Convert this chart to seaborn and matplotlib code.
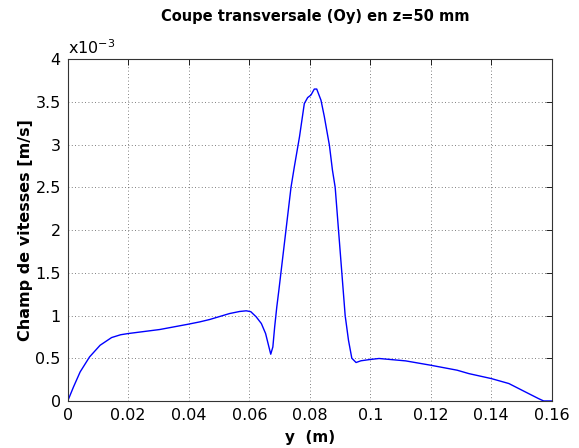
import matplotlib
matplotlib.use("Agg")
import matplotlib.pyplot as plt
from matplotlib.ticker import FuncFormatter
import numpy as np
import pandas as pd
import seaborn as sns

# Coupe transversale (Oy) a z = 50 mm
y_pos = [0.0, 0.0019, 0.0041, 0.0072, 0.0107, 0.0145, 0.0175, 0.0200, 0.0304,
         0.0398, 0.0436, 0.0469, 0.0535, 0.0568, 0.0590, 0.0605, 0.0623, 0.0640,
         0.0654, 0.0665, 0.0671, 0.0678, 0.0684, 0.0691, 0.0698, 0.0718, 0.0738,
         0.0749, 0.0766, 0.0782, 0.0793, 0.0804, 0.0815, 0.0823, 0.0837, 0.0848,
         0.0865, 0.0875, 0.0884, 0.0895, 0.0906, 0.0917, 0.0928, 0.0939, 0.0953,
         0.0969, 0.0999, 0.1029, 0.1117, 0.1200, 0.1287, 0.1326, 0.1400, 0.1458,
         0.1513, 0.1556, 0.1573, 0.1600]
# champ de vitesses en 1e-3 m/s
vitesse_e3 = [0.0, 0.164, 0.34, 0.515, 0.652, 0.742, 0.775, 0.789, 0.836,
              0.898, 0.925, 0.953, 1.023, 1.047, 1.055, 1.045, 0.984, 0.906,
              0.789, 0.632, 0.547, 0.632, 0.867, 1.10, 1.30, 1.90, 2.50,
              2.74, 3.09, 3.48, 3.55, 3.58, 3.65, 3.65, 3.52, 3.33,
              2.99, 2.70, 2.50, 2.0, 1.5, 1.0, 0.71, 0.5, 0.45,
              0.47, 0.485, 0.497, 0.469, 0.418, 0.36, 0.32, 0.262, 0.204,
              0.105, 0.028, 0.0, 0.0]

df = pd.DataFrame({"y": y_pos, "v": np.array(vitesse_e3) * 1e-3})

sns.set_style("white")
plt.rcParams['font.family'] = ['DejaVu Sans']
plt.rcParams['text.color'] = 'black'
plt.rcParams['axes.labelcolor'] = 'black'

fig = plt.figure(figsize=(5.79, 4.48), dpi=100)
ax = fig.add_axes([0.117, 0.105, 0.836, 0.763])

sns.lineplot(data=df, x="y", y="v", ax=ax, color=(0, 0, 1), linewidth=1.0,
             estimator=None, sort=False)

ax.set_xlim(0, 0.16)
ax.set_ylim(0, 4e-3)
ax.set_xticks(np.arange(0, 0.161, 0.02))
ax.set_yticks(np.arange(0, 4.01e-3, 0.5e-3))
ax.xaxis.set_major_formatter(FuncFormatter(lambda v, p: f"{round(v, 4):g}"))
ax.yaxis.set_major_formatter(FuncFormatter(lambda v, p: f"{round(v * 1e3, 3):g}"))

ax.grid(True, color="#555555", linestyle=(0, (1, 3)), linewidth=0.6)
ax.tick_params(direction="in", length=4, width=0.6, top=True, right=True,
               labelsize=11.5, colors="black", pad=5)
for s in ax.spines.values():
    s.set_color("#333333")
    s.set_linewidth(0.8)

ax.set_xlabel("y  (m)", fontsize=11, fontweight="bold", labelpad=5)
ax.set_ylabel("Champ de vitesses [m/s]", fontsize=11.5, fontweight="bold",
              labelpad=2)
fig.suptitle("Coupe transversale (Oy) en z=50 mm", fontsize=10.5,
             fontweight="bold", x=0.545, y=0.98)
ax.text(0.0, 1.005, r"x10$^{-3}$", transform=ax.transAxes, fontsize=11.5,
        ha="left", va="bottom")

fig.savefig("out.png", dpi=100)
